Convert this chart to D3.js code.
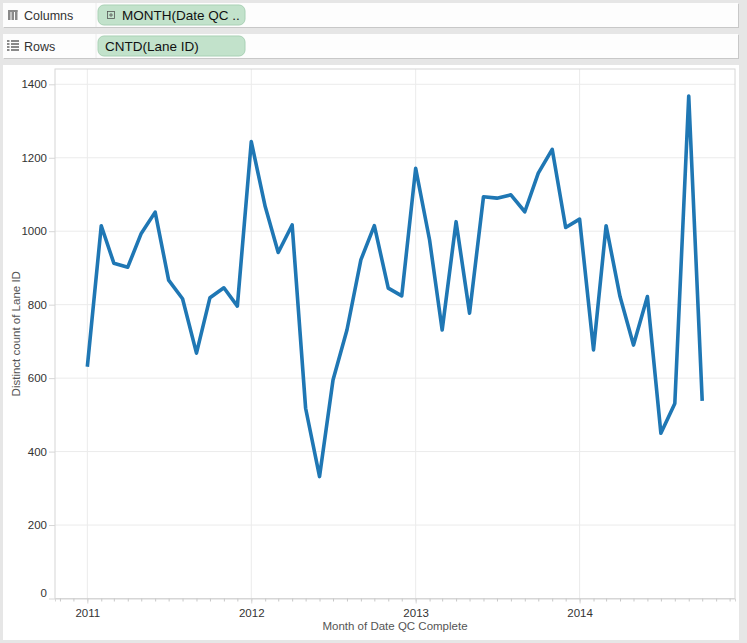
<!DOCTYPE html>
<html><head><meta charset="utf-8">
<script src="https://cdn.jsdelivr.net/npm/d3@7"></script>
<style>
html,body{margin:0;padding:0;background:#e6e6e6;}
svg{display:block;font-family:"Liberation Sans",Arial,sans-serif;}
</style></head>
<body>
<svg id="c" width="747" height="643"></svg>
<script>
// ---- data ----
const startYear = 2011, startMonth = 0; // Jan 2011
const values = [631,1015,913,902,994,1052,867,816,668,819,846,796,
  1244,1067,942,1017,518,332,595,731,922,1015,845,824,
  1171,976,731,1026,777,1094,1090,1099,1053,1158,1223,1010,
  1033,677,1015,822,690,822,450,531,1368,538];
const yTicks = [0,200,400,600,800,1000,1200,1400];
const xTickYears = [2011,2012,2013,2014];
const columnsPill = "MONTH(Date QC ..";
const rowsPill = "CNTD(Lane ID)";
const yTitle = "Distinct count of Lane ID";
const xTitle = "Month of Date QC Complete";

const data = values.map((v,i)=>({date:new Date(startYear, startMonth+i, 1), value:v}));

const svg = d3.select("#c");
svg.append("rect").attr("width",747).attr("height",643).attr("fill","#e6e6e6");

// ---- shelves ----
function shelf(y, h, label, pill, icon) {
  const g = svg.append("g");
  g.append("rect").attr("x",4).attr("y",y+1).attr("width",735).attr("height",h).attr("fill","#c8c8c8");
  g.append("rect").attr("x",3).attr("y",y).attr("width",735).attr("height",h).attr("fill","#fdfdfd");
  g.append("line").attr("x1",96).attr("x2",96).attr("y1",y).attr("y2",y+h).attr("stroke","#ececec");
  if (icon === "cols") {
    [8,11.5,15].forEach(x=>{
      g.append("rect").attr("x",x).attr("y",y+7).attr("width",2.5).attr("height",10).attr("fill","#8a8a8a");
    });
    g.append("rect").attr("x",8).attr("y",y+7).attr("width",9.5).attr("height",2).attr("fill","#8a8a8a");
  } else {
    [0,3,6,9].forEach(d=>{
      g.append("rect").attr("x",7).attr("y",y+6+d).attr("width",2.5).attr("height",2).attr("fill","#8a8a8a");
      g.append("rect").attr("x",11).attr("y",y+6+d).attr("width",8).attr("height",2).attr("fill","#8a8a8a");
    });
  }
  g.append("text").attr("x",24).attr("y",y+h/2+4.5).attr("font-size",12.5).attr("fill","#333").text(label);
  g.append("rect").attr("x",98).attr("y",y+2).attr("width",147).attr("height",h-4).attr("rx",6)
    .attr("fill","#c2e2cb").attr("stroke","#a9d1b5");
  let tx = 105;
  if (icon === "cols") {
    g.append("rect").attr("x",107.5).attr("y",y+8.5).attr("width",7).attr("height",7).attr("fill","none").attr("stroke","#555").attr("stroke-width",0.8);
    g.append("line").attr("x1",109).attr("x2",113).attr("y1",y+12).attr("y2",y+12).attr("stroke","#555").attr("stroke-width",0.8);
    g.append("line").attr("x1",111).attr("x2",111).attr("y1",y+10).attr("y2",y+14).attr("stroke","#555").attr("stroke-width",0.8);
    tx = 122;
  }
  g.append("text").attr("x",tx).attr("y",y+h/2+5).attr("font-size",13.5).attr("fill","#111").text(pill);
}
shelf(3, 24, "Columns", columnsPill, "cols");
shelf(34, 24, "Rows", rowsPill, "rows");

// ---- chart pane ----
svg.append("rect").attr("x",3).attr("y",65).attr("width",736).attr("height",575).attr("fill","#ffffff");

const L = 55, R = 735, T = 69, B = 598.5;
const x = d3.scaleTime()
  .domain([new Date(2010,9,21), new Date(2014,11,13)])
  .range([L, R]);
const y = d3.scaleLinear().domain([0,1400]).range([B, 84.3]);

// gridlines
svg.append("g").selectAll("line").data(yTicks.filter(d=>d>0)).join("line")
  .attr("x1",L).attr("x2",R).attr("y1",d=>y(d)).attr("y2",d=>y(d))
  .attr("stroke","#ebebeb").attr("stroke-width",1);
svg.append("g").selectAll("line").data(xTickYears).join("line")
  .attr("x1",d=>x(new Date(d,0,1))).attr("x2",d=>x(new Date(d,0,1)))
  .attr("y1",T).attr("y2",B)
  .attr("stroke","#ebebeb").attr("stroke-width",1);

// plot border
svg.append("rect").attr("x",L).attr("y",T).attr("width",R-L).attr("height",B-T)
  .attr("fill","none").attr("stroke","#d6d6d6").attr("stroke-width",1);

// y axis
const yAxis = d3.axisLeft(y).tickValues(yTicks).tickSize(6).tickPadding(2).tickFormat(d3.format("d"));
const gy = svg.append("g").attr("transform",`translate(${L},0)`).call(yAxis);
gy.select(".domain").remove();
gy.selectAll(".tick line").attr("stroke","#d6d6d6");
gy.selectAll(".tick text").attr("font-size",11.5).attr("fill","#333")
  .attr("font-family","Liberation Sans, Arial, sans-serif");
gy.selectAll(".tick").filter(d=>d===0).select("text").attr("dy","-0.2em");

// x axis
const monthTicks = d3.timeMonth.range(new Date(2010,10,1), new Date(2014,11,13));
const xMinor = d3.axisBottom(x).tickValues(monthTicks).tickSize(3).tickFormat("");
const gxm = svg.append("g").attr("transform",`translate(0,${B})`).call(xMinor);
gxm.select(".domain").attr("stroke","#d6d6d6");
gxm.selectAll(".tick line").attr("stroke","#c8c8c8");
const xAxis = d3.axisBottom(x).tickValues(xTickYears.map(d=>new Date(d,0,1))).tickSize(5).tickPadding(5).tickFormat(d3.timeFormat("%Y"));
const gx = svg.append("g").attr("transform",`translate(0,${B})`).call(xAxis);
gx.select(".domain").remove();
gx.selectAll(".tick line").attr("stroke","#d6d6d6");
gx.selectAll(".tick text").attr("font-size",11.5).attr("fill","#333")
  .attr("font-family","Liberation Sans, Arial, sans-serif");

// titles
svg.append("text").attr("x",(L+R)/2).attr("y",630).attr("text-anchor","middle")
  .attr("font-size",11.5).attr("fill","#555").text(xTitle);
svg.append("text").attr("transform",`translate(20,${(T+B)/2}) rotate(-90)`)
  .attr("text-anchor","middle").attr("font-size",11.5).attr("fill","#555").text(yTitle);

// line
const line = d3.line().x(d=>x(d.date)).y(d=>y(d.value));
svg.append("path").datum(data).attr("d",line)
  .attr("fill","none").attr("stroke","#1f77b4").attr("stroke-width",3.6)
  .attr("stroke-linejoin","round").attr("stroke-linecap","butt");
</script>
</body></html>
